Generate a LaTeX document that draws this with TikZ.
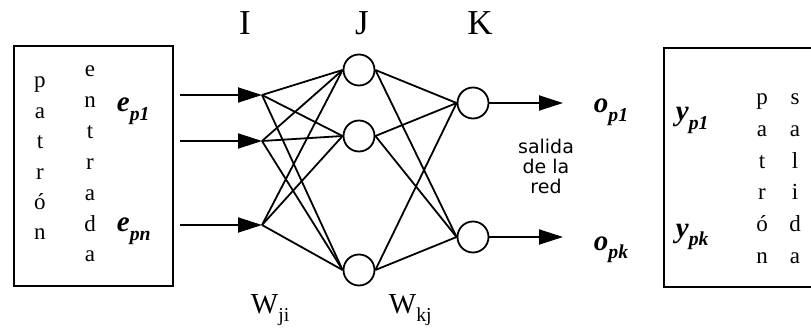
\documentclass[tikz,border=0pt]{standalone}
\usepackage{fontspec}
\setmainfont{Liberation Serif}
\newfontfamily\salfont{DejaVu Sans}
\usetikzlibrary{arrows.meta}
\newcommand\sbx[1]{\raisebox{-0.3em}{\scalebox{0.68}{#1}}}
\begin{document}
\begin{tikzpicture}[x=1pt,y=-1pt,line width=1.8pt,
  neuron/.style={circle,draw,minimum size=31pt,inner sep=0pt,line width=1.8pt},
  frame/.style={draw,anchor=north west,inner sep=0pt,line width=1.8pt},
  letter/.style={anchor=base,inner sep=0pt,font=\fontsize{23}{23}\selectfont},
  layer/.style={anchor=base,inner sep=0pt,font=\fontsize{35}{35}\selectfont},
  wlabel/.style={anchor=base west,inner sep=0pt,font=\fontsize{29}{29}\selectfont},
  vec/.style={anchor=base west,inner sep=0pt,font=\fontsize{29}{29}\selectfont\bfseries\itshape},
  arr/.style={-{Triangle[length=24pt,width=15pt]}},
  link/.style={line width=1.8pt}]
\useasboundingbox (0,0) rectangle (811,331);
% boxes
\node[frame,minimum width=159pt,minimum height=240pt] (inbox) at (13,45) {};
\node[frame,minimum width=220pt,minimum height=239pt] (outbox) at (663,47) {};
% left box text
\foreach \c [count=\i from 0] in {p,a,t,r,ó,n}
  \node[letter] (pa\i) at (40,88+30.4*\i) {\c};
\foreach \c [count=\i from 0] in {e,n,t,r,a,d,a}
  \node[letter] (en\i) at (90,77+30.8*\i) {\c};
\node[vec] (ep1) at (116,112) {e\sbx{p1}};
\node[vec] (epn) at (116,232) {e\sbx{pn}};
% right box text
\node[vec] (yp1) at (675,121) {y\sbx{p1}};
\node[vec] (ypk) at (675,237) {y\sbx{pk}};
\foreach \c [count=\i from 0] in {p,a,t,r,ó,n}
  \node[letter] (pb\i) at (762,105+31.6*\i) {\c};
\foreach \c [count=\i from 0] in {s,a,l,i,d,a}
  \node[letter] (sb\i) at (795,105+31.6*\i) {\c};
% layer labels
\node[layer] (LI) at (245,35) {I};
\node[layer] (LJ) at (362,35) {J};
\node[layer] (LK) at (480,35) {K};
\node[wlabel] (wji) at (250,313) {W\sbx{ji}};
\node[wlabel] (wkj) at (388,313) {W\sbx{kj}};
% input points
\coordinate (i1) at (262,95);
\coordinate (i2) at (262,141);
\coordinate (i3) at (262,225);
\coordinate (s1) at (180,95);
\coordinate (s2) at (180,141);
\coordinate (s3) at (180,225);
\foreach \k in {1,2,3} \draw[arr] (s\k) -- (i\k);
% neurons
\node[neuron] (h1) at (359,70) {};
\node[neuron] (h2) at (359,136) {};
\node[neuron] (h3) at (359,270) {};
\node[neuron] (o1) at (473,103) {};
\node[neuron] (o2) at (473,237) {};
\foreach \a in {1,2,3} \foreach \b in {1,2,3} \draw[link] (i\a) -- (h\b.west);
\foreach \a in {1,2,3} \foreach \b in {1,2} \draw[link] (h\a.east) -- (o\b.west);
% outputs
\coordinate (t1) at (563,103);
\coordinate (t2) at (563,237);
\draw[arr] (o1.east) -- (t1);
\draw[arr] (o2.east) -- (t2);
\node[vec] (op1) at (593,113) {o\sbx{p1}};
\node[vec] (opk) at (593,250) {o\sbx{pk}};
\node[align=center,inner sep=0pt,font=\salfont\fontsize{19}{20}\selectfont] (sal) at (546,166) {salida\\de la\\red};
\end{tikzpicture}
\end{document}
